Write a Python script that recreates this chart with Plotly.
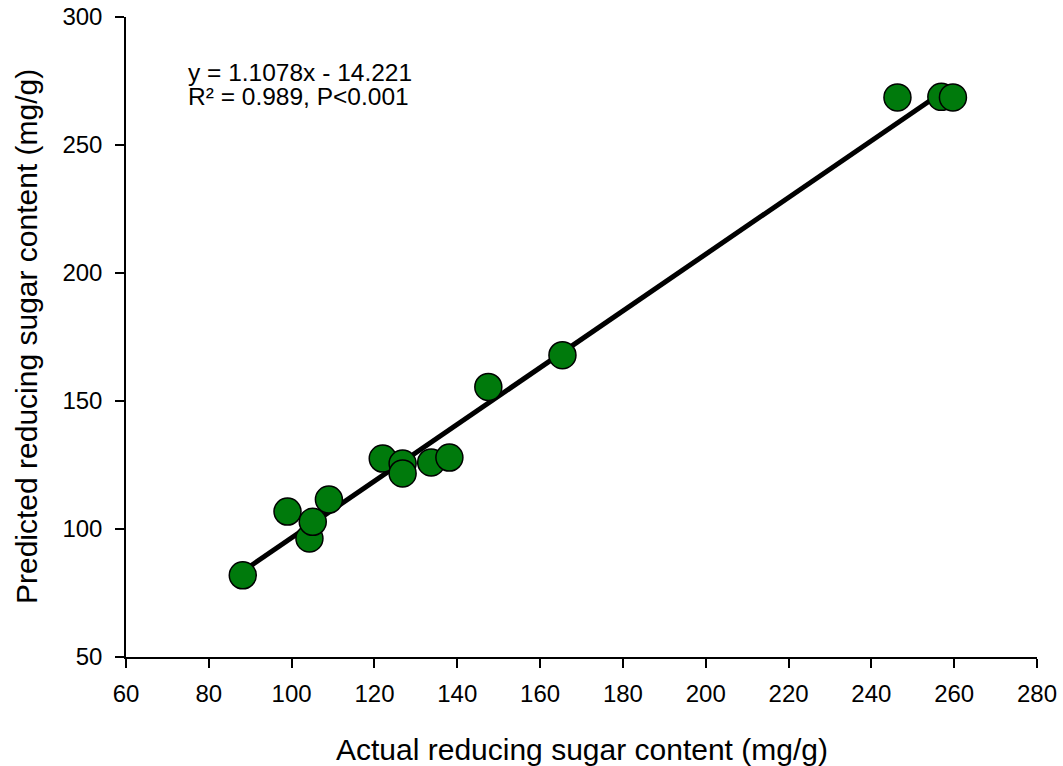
import plotly.graph_objects as go

actual = [88.2, 99.0, 104.3, 105.1, 109.0, 122.0, 126.8, 126.8, 133.7, 138.1,
          147.5, 165.4, 246.3, 256.9, 259.7]
predicted = [81.9, 106.8, 96.3, 102.8, 111.5, 127.5, 125.6, 121.7, 126.0, 127.9,
             155.5, 167.9, 268.6, 268.8, 268.6]
slope = 1.1078
intercept = -14.221
line_x = [88.2, 254.3]
line_y = [slope * v + intercept for v in line_x]

x_ticks = list(range(60, 281, 20))
y_ticks = list(range(50, 301, 50))

fig = go.Figure()
fig.add_trace(go.Scatter(x=line_x, y=line_y, mode="lines",
                         line=dict(color="black", width=5), showlegend=False,
                         hoverinfo="skip"))
fig.add_trace(go.Scatter(x=actual, y=predicted, mode="markers",
                         marker=dict(size=27, color="#007A0C",
                                     line=dict(color="black", width=1.5)),
                         showlegend=False))

font = "Liberation Sans, Arial, sans-serif"
axis_common = dict(showgrid=False, zeroline=False, showline=True,
                   linecolor="black", linewidth=1.5, ticks="outside", ticklen=9,
                   tickwidth=1.5, tickcolor="black", automargin=False,
                   tickfont=dict(size=24))
fig.update_layout(
    width=1063, height=766,
    margin=dict(l=126, r=26, t=17, b=109),
    plot_bgcolor="white", paper_bgcolor="white",
    font=dict(family=font, size=24, color="black"),
    xaxis=dict(range=[60, 280], tickvals=x_ticks, ticklabelstandoff=5,
               **axis_common),
    yaxis=dict(range=[50, 300], tickvals=y_ticks, ticklabelstandoff=8,
               **axis_common),
    annotations=[
        dict(x=0.5, y=0, xref="paper", yref="paper", xanchor="center",
             yanchor="middle", yshift=-92, showarrow=False,
             text="Actual reducing sugar content (mg/g)", font=dict(size=30)),
        dict(x=0, y=0.5, xref="paper", yref="paper", xanchor="center",
             yanchor="middle", xshift=-100, textangle=-90, showarrow=False,
             text="Predicted reducing sugar content (mg/g)", font=dict(size=30)),
        dict(x=0.068, y=0.913, xref="paper", yref="paper", xanchor="left",
             yanchor="middle", showarrow=False, xshift=-2,
             text="y = 1.1078x - 14.221", font=dict(size=24.5)),
        dict(x=0.068, y=0.876, xref="paper", yref="paper", xanchor="left",
             yanchor="middle", showarrow=False, xshift=-2,
             text="R² = 0.989, P<0.001", font=dict(size=24.5)),
    ],
)
fig.write_html("out.html")
